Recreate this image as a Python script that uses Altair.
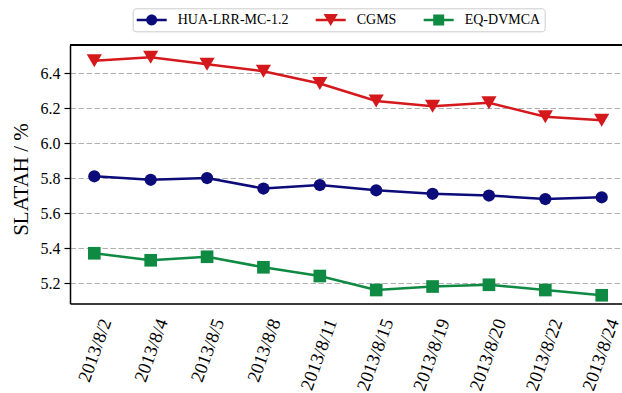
import altair as alt
import pandas as pd

dates = ["2013/8/2", "2013/8/4", "2013/8/5", "2013/8/8", "2013/8/11",
         "2013/8/15", "2013/8/19", "2013/8/20", "2013/8/22", "2013/8/24"]
series_names = ["HUA-LRR-MC-1.2", "CGMS", "EQ-DVMCA"]
hua = [5.81, 5.79, 5.80, 5.74, 5.76, 5.73, 5.71, 5.70, 5.68, 5.69]
cgms = [6.47, 6.49, 6.45, 6.41, 6.34, 6.24, 6.21, 6.23, 6.15, 6.13]
eq = [5.37, 5.33, 5.35, 5.29, 5.24, 5.16, 5.18, 5.19, 5.16, 5.13]
y_ticks = [5.2, 5.4, 5.6, 5.8, 6.0, 6.2, 6.4]

colors = ["#0b0b7a", "#d4181c", "#0e8a42"]
shapes = ["circle", "triangle-down", "square"]
sizes = [150, 230, 160]
FONT = "Liberation Serif"
W, H = 552, 258.5

# legend symbols: line segment + marker (unit path coordinates)
bar = "M-1,-0.17L3,-0.17L3,0.17L-1,0.17Z"
legend_paths = [
    bar + "M1.73,0A0.73,0.73,0,1,1,0.27,0A0.73,0.73,0,1,1,1.73,0Z",
    bar + "M0.05,-0.8L1.95,-0.8L1,0.8Z",
    bar + "M0.27,-0.73L1.73,-0.73L1.73,0.73L0.27,0.73Z",
]

rows = []
for name, vals in zip(series_names, [hua, cgms, eq]):
    for d, v in zip(dates, vals):
        rows.append({"date": d, "series": name, "value": v})
df = pd.DataFrame(rows)

x_bottom = alt.X(
    "date:N", sort=dates,
    scale=alt.Scale(type="point", padding=0.3955, align=0.545),
    axis=alt.Axis(title=None, labelAngle=290, labelAlign="right", labelBaseline="middle",
                  labelFontSize=18.5, labelPadding=15.5, labelOffset=11.3, ticks=False,
                  domainColor="black", domainWidth=1.5, grid=False, labelColor="black",
                  labelFont=FONT),
)
y_enc = alt.Y(
    "value:Q",
    scale=alt.Scale(domain=[5.083, 6.56], nice=False, zero=False),
    axis=alt.Axis(values=y_ticks, format=".1f", title="SLATAH / %",
                  labelFontSize=16, labelColor="black", labelFont=FONT, labelPadding=4,
                  tickSize=6, tickColor="black", tickWidth=1.2,
                  domainColor="black", domainWidth=1.5,
                  grid=True, gridColor="#b0b0b0", gridDash=[5.5, 2.5], gridWidth=1.2,
                  titleFontSize=21, titleFontWeight="normal", titleFont=FONT, titleColor="black",
                  titleX=-48.5, titleY=134, titleAngle=270, titleAlign="center",
                  titleBaseline="middle"),
)
color_enc = alt.Color("series:N", scale=alt.Scale(domain=series_names, range=colors), legend=None)

lines = alt.Chart(df).mark_line(strokeWidth=2.5).encode(x=x_bottom, y=y_enc, color=color_enc)

point_layers = []
for name, c, s, sz in zip(series_names, colors, shapes, sizes):
    point_layers.append(
        alt.Chart(df).transform_filter(alt.datum.series == name)
        .mark_point(shape=s, size=sz, filled=True, color=c, opacity=1, strokeWidth=0)
        .encode(x=x_bottom, y=y_enc)
    )

# top frame line of the plot area
top_frame = alt.Chart(df).mark_rule(color="black", strokeWidth=1.5).encode(
    x=alt.value(0), x2=alt.value(W), y=alt.value(0)
)

leg = alt.Legend(orient="none", legendX=62.7, legendY=-36.7, direction="horizontal",
                 columns=3, title=None, labelFont=FONT, labelFontSize=14, labelColor="black",
                 symbolSize=225, labelOffset=26, columnPadding=27, padding=4,
                 strokeColor="#cccccc", fillColor="white", cornerRadius=3,
                 symbolStrokeWidth=0, symbolOpacity=1)

legend_layer = (
    alt.Chart(df).transform_filter("false")
    .mark_point(filled=True, opacity=1, size=225)
    .encode(
        color=alt.Color("series:N", scale=alt.Scale(domain=series_names, range=colors), legend=leg),
        shape=alt.Shape("series:N", scale=alt.Scale(domain=series_names, range=legend_paths), legend=leg),
    )
)

chart = (
    alt.layer(lines, *point_layers, top_frame, legend_layer)
    .resolve_scale(shape="independent", color="independent")
    .properties(width=W, height=H,
                autosize=alt.AutoSizeParams(type="none"),
                padding={"left": 70, "top": 45, "right": 0, "bottom": 90.5})
    .configure_view(stroke=None)
    .configure(font=FONT, background="white")
)

chart.save("out.html", embed_options={"renderer": "svg", "actions": False})
